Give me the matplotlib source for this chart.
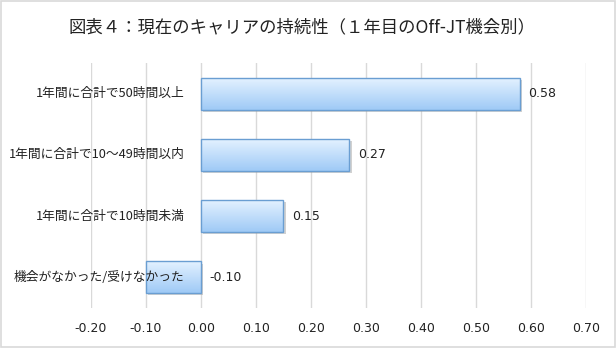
import numpy as np
import matplotlib
matplotlib.use('Agg')
import matplotlib.pyplot as plt
from matplotlib.colors import LinearSegmentedColormap
from matplotlib.patches import Rectangle
from matplotlib.transforms import ScaledTranslation

plt.rcParams['font.family'] = ['Noto Sans CJK JP', 'DejaVu Sans']

title = '図表４：現在のキャリアの持続性（１年目のOff-JT機会別）'
categories = ['1年間に合計で50時間以上',
              '1年間に合計で10～49時間以内',
              '1年間に合計で10時間未満',
              '機会がなかった/受けなかった']
values = [0.58, 0.27, 0.15, -0.10]
xticks = [-0.20, -0.10, 0.00, 0.10, 0.20, 0.30, 0.40, 0.50, 0.60, 0.70]

fig = plt.figure(figsize=(6.16, 3.48), dpi=100)
ax = fig.add_axes([0.1477, 0.115, 0.8036, 0.704])

# light border round the whole chart area
fig.patches.append(Rectangle((0.002, 0.003), 0.996, 0.994, transform=fig.transFigure,
                             fill=False, edgecolor='#d9d9d9', linewidth=1.2))

fig.text(0.49, 0.922, title, ha='center', va='center', fontsize=12.5, color='#222222')

grad = LinearSegmentedColormap.from_list('bar', ['#e3f1ff', '#9fcaf6'])
ypos = np.arange(len(categories))

# soft drop shadow, shifted down-right
shadow_tr = ax.transData + ScaledTranslation(1.5 / 72, -1.5 / 72, fig.dpi_scale_trans)
shadows = ax.barh(ypos, values, height=0.52, color='#9a9a9a', alpha=0.45,
                  linewidth=0, zorder=1.5)
for s in shadows:
    s.set_transform(shadow_tr)

bars = ax.barh(ypos, values, height=0.52, color='none', edgecolor='#6a9ed2',
               linewidth=1.0, zorder=3)

for bar, v in zip(bars, values):
    x0, y0 = bar.get_x(), bar.get_y()
    w, h = bar.get_width(), bar.get_height()
    img = ax.imshow(np.linspace(0, 1, 64).reshape(-1, 1), cmap=grad, aspect='auto',
                    extent=(x0, x0 + w, y0 + h, y0), origin='upper', zorder=2)
    img.set_clip_path(bar)
    ax.annotate(f'{v:.2f}', xy=(max(v, 0), y0 + h / 2), xytext=(6, 0),
                textcoords='offset points', ha='left', va='center',
                fontsize=9, family='DejaVu Sans', color='#222222', zorder=4)

# category labels sit next to the zero line, drawn over the bars
for y, label in zip(ypos, categories):
    ax.annotate(label, xy=(0, y), xytext=(-12, 0), textcoords='offset points',
                ha='right', va='center', fontsize=9.2, color='#222222', zorder=5)

ax.set_xlim(-0.20, 0.70)
ax.set_ylim(len(categories) - 0.5, -0.5)
ax.set_xticks(xticks)
ax.set_xticklabels([f'{t:.2f}' for t in xticks], fontsize=9, family='DejaVu Sans',
                   color='#222222')
ax.tick_params(axis='x', length=0, pad=10)
ax.set_yticks([])
ax.grid(axis='x', color='#d9d9d9', linewidth=1.0, zorder=0)
ax.set_axisbelow(True)
for s in ax.spines.values():
    s.set_visible(False)

fig.savefig('out.png', dpi=100)
